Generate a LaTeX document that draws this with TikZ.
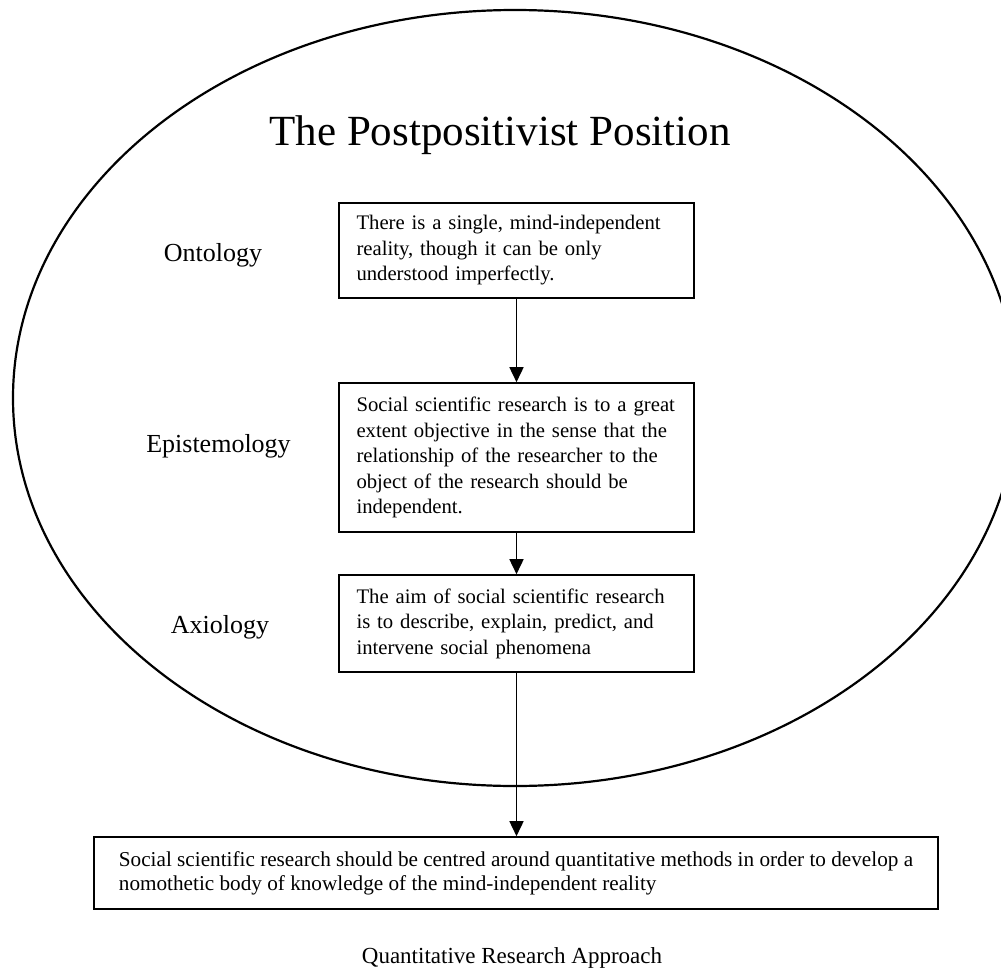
\documentclass[tikz,border=0pt]{standalone}
\usepackage{fontspec}
\setmainfont{Liberation Serif}
\usetikzlibrary{arrows.meta}

\begin{document}
\begin{tikzpicture}[x=1pt, y=-1pt,
    box/.style={draw, line width=1.6pt, text width=320pt, inner xsep=17.5pt, align=left,
        minimum height=#1, font=\fontsize{20.7}{25.5}\selectfont},
    levelname/.style={anchor=base, font=\fontsize{26}{30}\selectfont},
    flow/.style={line width=1.6pt, -{Triangle[length=15pt, width=14pt]}}]
    \useasboundingbox (0,0) rectangle (1001,974);

    % Draw the ellipse
    \draw[line width=2.2pt] (515,398) ellipse [x radius=502pt, y radius=388pt];

    % Title
    \node[anchor=base, font=\fontsize{43}{50}\selectfont] (title) at (500,145) {The Postpositivist Position};

    % Label the levels
    \node[levelname] (ontolabel) at (213,261) {Ontology};
    \node[levelname] (epislabel) at (218.5,452) {Epistemology};
    \node[levelname] (axiolabel) at (220,633) {Axiology};

    % The boxes
    \node[box=95pt] (onto) at (516.5,250.5) {There is a single, mind-independent\\ reality, though it can be only\\ understood imperfectly.};
    \node[box=149pt] (epis) at (516.5,457.5) {Social scientific research is to a great\\ extent objective in the sense that the\\ relationship of the researcher to the\\ object of the research should be\\ independent.};
    \node[box=97pt] (axio) at (516.5,623.5) {The aim of social scientific research\\ is to describe, explain, predict, and\\ intervene social phenomena};

    % Outcome box
    \node[draw, line width=1.6pt, minimum width=844pt, minimum height=72pt, inner xsep=21pt, align=left,
        font=\fontsize{21.2}{24}\selectfont] (method) at (516,873) {Social scientific research should be centred around quantitative methods in order to develop a\\ nomothetic body of knowledge of the mind-independent reality};
    \node[anchor=base, font=\fontsize{23}{27}\selectfont] (approach) at (512,963) {Quantitative Research Approach};

    % Arrows
    \draw[flow] (onto) -- (epis);
    \draw[flow] (epis) -- (axio);
    \draw[flow] (axio) -- (axio.south |- method.north);
\end{tikzpicture}
\end{document}
